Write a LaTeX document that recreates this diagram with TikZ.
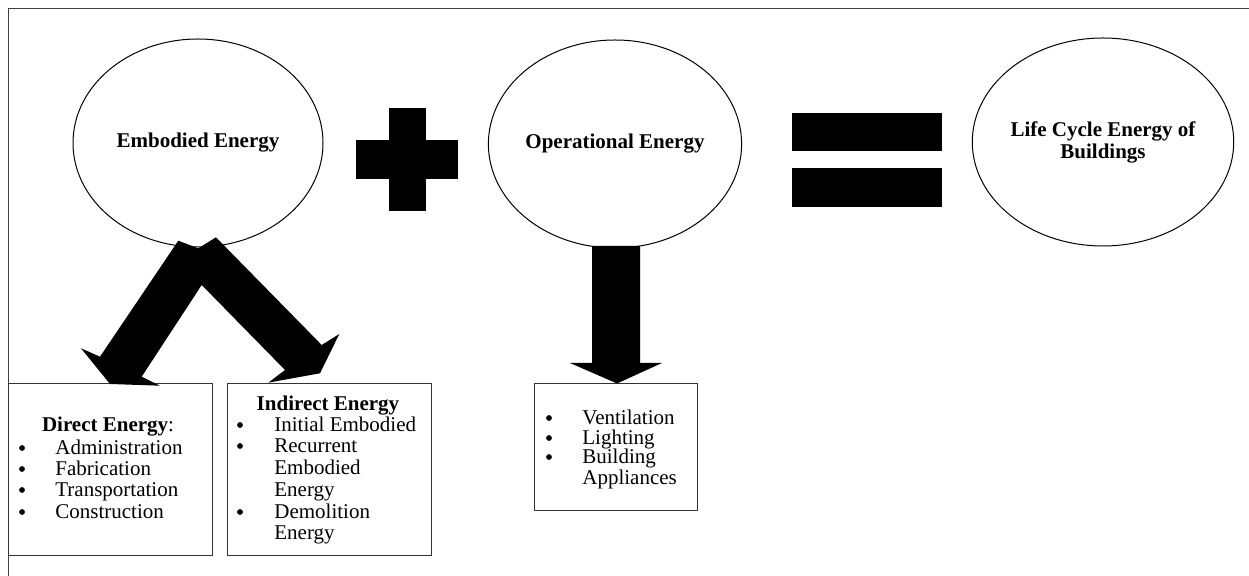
\documentclass[tikz,border=0pt]{standalone}
\usepackage{fontspec}
\setmainfont{Liberation Serif}
\usetikzlibrary{shapes.geometric}
\begin{document}
\begin{tikzpicture}[x=0.5pt,y=-0.5pt,
  every node/.style={font=\fontsize{10.5}{11}\selectfont},
  bubble/.style={ellipse,draw,line width=0.5pt,inner sep=0pt,
    minimum width=125pt,minimum height=104pt,
    font=\fontsize{10.5}{11}\selectfont\bfseries,align=center},
  listbox/.style={draw=black!80,line width=0.6pt,anchor=north west,inner sep=0pt},
  item/.style={anchor=base west,inner sep=0pt},
  dot/.style={circle,fill=black,inner sep=0pt,minimum size=2.9pt},
  heading/.style={anchor=base,inner sep=0pt},
  block/.style={fill=black}]
\clip (0,0) rectangle (1249,576);
\fill[white] (0,0) rectangle (1249,576);
% outer frame (only the top and left edges fall inside the page)
\draw[black!75,line width=0.9pt] (8.5,8.5) rectangle (1300,620);

% the three energy bubbles
\node[bubble] (emb) at (198,143) {Embodied Energy};
\node[bubble,minimum width=123pt] (op) at (615,144) {Operational Energy};
\node[bubble] (lce) at (1103,142) {Life Cycle Energy of\\Buildings};

% plus and equals signs
\fill[block] (356,140) rectangle (458,179);
\fill[block] (389,108) rectangle (426,211);
\fill[block] (792,113) rectangle (942,151);
\fill[block] (792,168) rectangle (942,207);

% list boxes
\node[listbox,minimum width=102pt,minimum height=86pt] (direct) at (8,383) {};
\node[listbox,minimum width=102pt,minimum height=86pt] (indirect) at (227,383) {};
\node[listbox,minimum width=81.5pt,minimum height=63.5pt] (opbox) at (534,383) {};

% split block arrow from embodied energy to both boxes
\fill[block] (178.3,240.7) -- (100,356.7) -- (81,348.3) -- (110,384) -- (160,385.7)
  -- (141.7,376.7) -- (201.7,285) -- (285,370) -- (268.3,382.7) -- (320,373.3)
  -- (339.3,334) -- (321.7,345) -- (216,237.3) -- (198.3,248.3) -- cycle;
% block arrow from operational energy down to its box
\fill[block] (592,246) -- (592,363) -- (570,363) -- (617,383.5) -- (662,363)
  -- (640,363) -- (640,246) -- cycle;

% direct energy list
\node[heading] (dtitle) at (108,432) {\textbf{Direct Energy}:};
\foreach \yb/\t in {455/Administration,476/Fabrication,497/Transportation,519/Construction}{
  \node[dot] (db\yb) at (22,\yb-7) {};
  \node[item] (dt\yb) at (55,\yb) {\t};
}

% indirect energy list
\node[heading] (ititle) at (328,411) {\textbf{Indirect Energy}};
\foreach \yb in {432,453,519}{
  \node[dot] (ib\yb) at (240,\yb-7) {};
}
\foreach \yb/\t in {432/Initial Embodied,453/Recurrent,475/Embodied,497/Energy,519/Demolition,540/Energy}{
  \node[item] (it\yb) at (274,\yb) {\t};
}

% operational energy list
\foreach \yb in {425,445,464}{
  \node[dot] (ob\yb) at (549,\yb-7) {};
}
\foreach \yb/\t in {425/Ventilation,445/Lighting,464/Building,485/Appliances}{
  \node[item] (ot\yb) at (582,\yb) {\t};
}
\end{tikzpicture}
\end{document}
